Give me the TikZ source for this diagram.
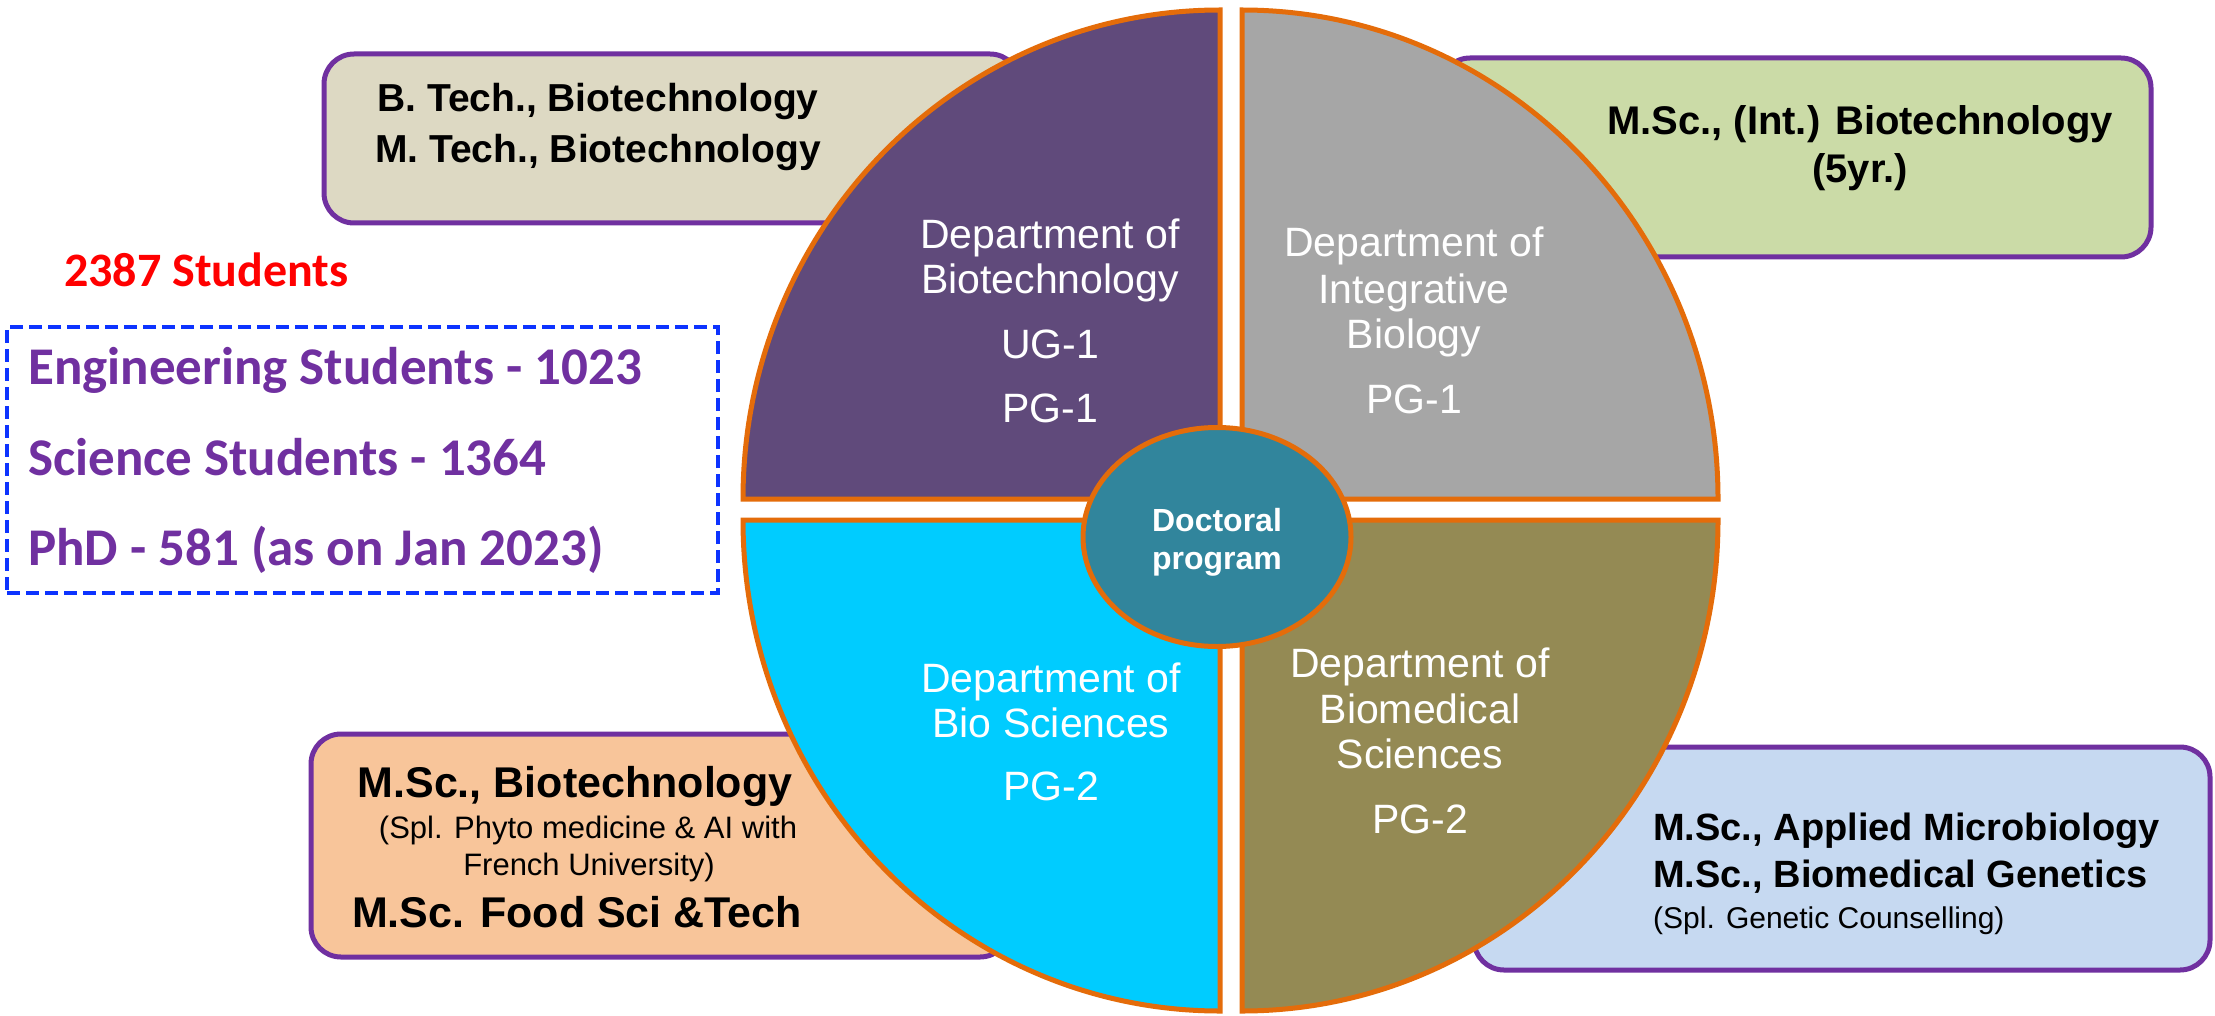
\documentclass[tikz,border=0pt]{standalone}
\usepackage{fontspec}
\setmainfont{Liberation Sans}
\newfontfamily\carlfont{Carlito}
\usetikzlibrary{shapes.geometric}
\definecolor{qpurple}{HTML}{604A7B}
\definecolor{qgray}{HTML}{A6A6A6}
\definecolor{qcyan}{HTML}{00CCFF}
\definecolor{qolive}{HTML}{948A54}
\definecolor{qteal}{HTML}{31859C}
\definecolor{qorange}{HTML}{E46C0A}
\definecolor{bpurple}{HTML}{7030A0}
\definecolor{fbeige}{HTML}{DDD9C3}
\definecolor{fgreen}{HTML}{CBDBA7}
\definecolor{fpeach}{HTML}{F8C59A}
\definecolor{fblue}{HTML}{C6D9F1}
\definecolor{dblue}{HTML}{0D33FF}
\definecolor{tpurple}{HTML}{7030A0}
\newcommand\fsz[1]{\fontsize{#1pt}{#1pt}\selectfont}
\begin{document}
\begin{tikzpicture}[x=1pt,y=1pt,
  progbox/.style={draw=bpurple, line width=5pt, rounded corners=30pt, inner sep=0pt},
  quad/.style={draw=qorange, line width=5pt},
  dept/.style={text=white, font=\fsz{41}, anchor=base, inner sep=0pt},
  btxt/.style={text=black, font=\bfseries\fsz{#1}, anchor=base, inner sep=0pt},
  rtxt/.style={text=black, font=\fsz{#1}, anchor=base, inner sep=0pt},
  ctxt/.style={text=#1, font=\carlfont\bfseries\fsz{53}, anchor=base west, inner sep=0pt}]
\useasboundingbox (0,0) rectangle (2215,-1016);
\fill[white] (0,0) rectangle (2215,-1016);

% program boxes
\node[progbox, fill=fbeige, minimum width=696pt, minimum height=169pt] (boxTL) at (672,-138.5) {};
\node[progbox, fill=fgreen, minimum width=711pt, minimum height=199pt] (boxTR) at (1795.5,-157.5) {};
\node[progbox, fill=fpeach, minimum width=699pt, minimum height=223pt] (boxBL) at (660.5,-845.5) {};
\node[progbox, fill=fblue, minimum width=736pt, minimum height=223pt] (boxBR) at (1842,-858.5) {};

% quadrants
\draw[quad, fill=qpurple] (1220,-499) -- (743,-499) arc[start angle=180, end angle=90, x radius=477, y radius=489] -- cycle;
\draw[quad, fill=qgray] (1242,-499) -- (1242,-10) arc[start angle=90, end angle=0, x radius=476, y radius=489] -- cycle;
\draw[quad, fill=qcyan] (1220,-520) -- (1220,-1011) arc[start angle=270, end angle=180, x radius=477, y radius=491] -- cycle;
\draw[quad, fill=qolive] (1242,-520) -- (1718,-520) arc[start angle=0, end angle=-90, x radius=476, y radius=491] -- cycle;

% centre
\node[ellipse, draw=qorange, line width=5pt, fill=qteal, minimum width=268pt, minimum height=219pt, inner sep=0pt] (doc) at (1217,-537) {};
\node[text=white, font=\bfseries\fsz{32}, anchor=base, inner sep=0pt] (doc1) at (1217,-531) {Doctoral};
\node[text=white, font=\bfseries\fsz{32}, anchor=base, inner sep=0pt] (doc2) at (1217,-569) {program};

% department texts
\node[dept] (tla) at (1050,-248) {Department of};
\node[dept] (tlb) at (1050,-293) {Biotechnology};
\node[dept] (tlc) at (1050,-358) {UG-1};
\node[dept] (tld) at (1050,-422) {PG-1};

\node[dept] (tra) at (1414,-257) {Department of};
\node[dept] (trb) at (1414,-303) {Integrative};
\node[dept] (trc) at (1414,-348) {Biology};
\node[dept] (trd) at (1414,-413) {PG-1};

\node[dept] (bla) at (1051,-692) {Department of};
\node[dept] (blb) at (1051,-737) {Bio Sciences};
\node[dept] (blc) at (1051,-800) {PG-2};

\node[dept] (bra) at (1420,-677) {Department of};
\node[dept] (brb) at (1420,-723) {Biomedical};
\node[dept] (brc) at (1420,-768) {Sciences};
\node[dept] (brd) at (1420,-833) {PG-2};

% box texts
\node[btxt=39] (p1) at (598,-112) {B. Tech., Biotechnology};
\node[btxt=39] (p2) at (598,-163) {M. Tech., Biotechnology};

\node[btxt=40] (p3) at (1860,-135) {M.Sc., (Int.) Biotechnology};
\node[btxt=40] (p4) at (1860,-183) {(5yr.)};

\node[btxt=43] (p5) at (575,-797) {M.Sc., Biotechnology};
\node[rtxt=31] (p6) at (588,-838) {(Spl. Phyto medicine \& AI with};
\node[rtxt=31] (p7) at (589,-875) {French University)};
\node[btxt=43] (p8) at (577,-927) {M.Sc. Food Sci \&Tech};

\node[btxt=38, anchor=base west] (p9) at (1653,-840) {M.Sc., Applied Microbiology};
\node[btxt=38, anchor=base west] (p10) at (1653,-887) {M.Sc., Biomedical Genetics};
\node[rtxt=30, anchor=base west] (p11) at (1653,-928) {(Spl. Genetic Counselling)};

% student counts
\node[ctxt=red, font=\carlfont\bfseries\fsz{48}] (tot) at (64,-286) {2387 Students};
\node[draw=dblue, line width=4pt, dash pattern=on 13pt off 6pt, minimum width=711pt, minimum height=266pt, inner sep=0pt] (cnt) at (362.5,-460) {};
\node[ctxt=tpurple] (c1) at (28,-384) {Engineering Students - 1023};
\node[ctxt=tpurple] (c2) at (28,-475) {Science Students - 1364};
\node[ctxt=tpurple] (c3) at (28,-565) {PhD - 581 (as on Jan 2023)};
\end{tikzpicture}
\end{document}
